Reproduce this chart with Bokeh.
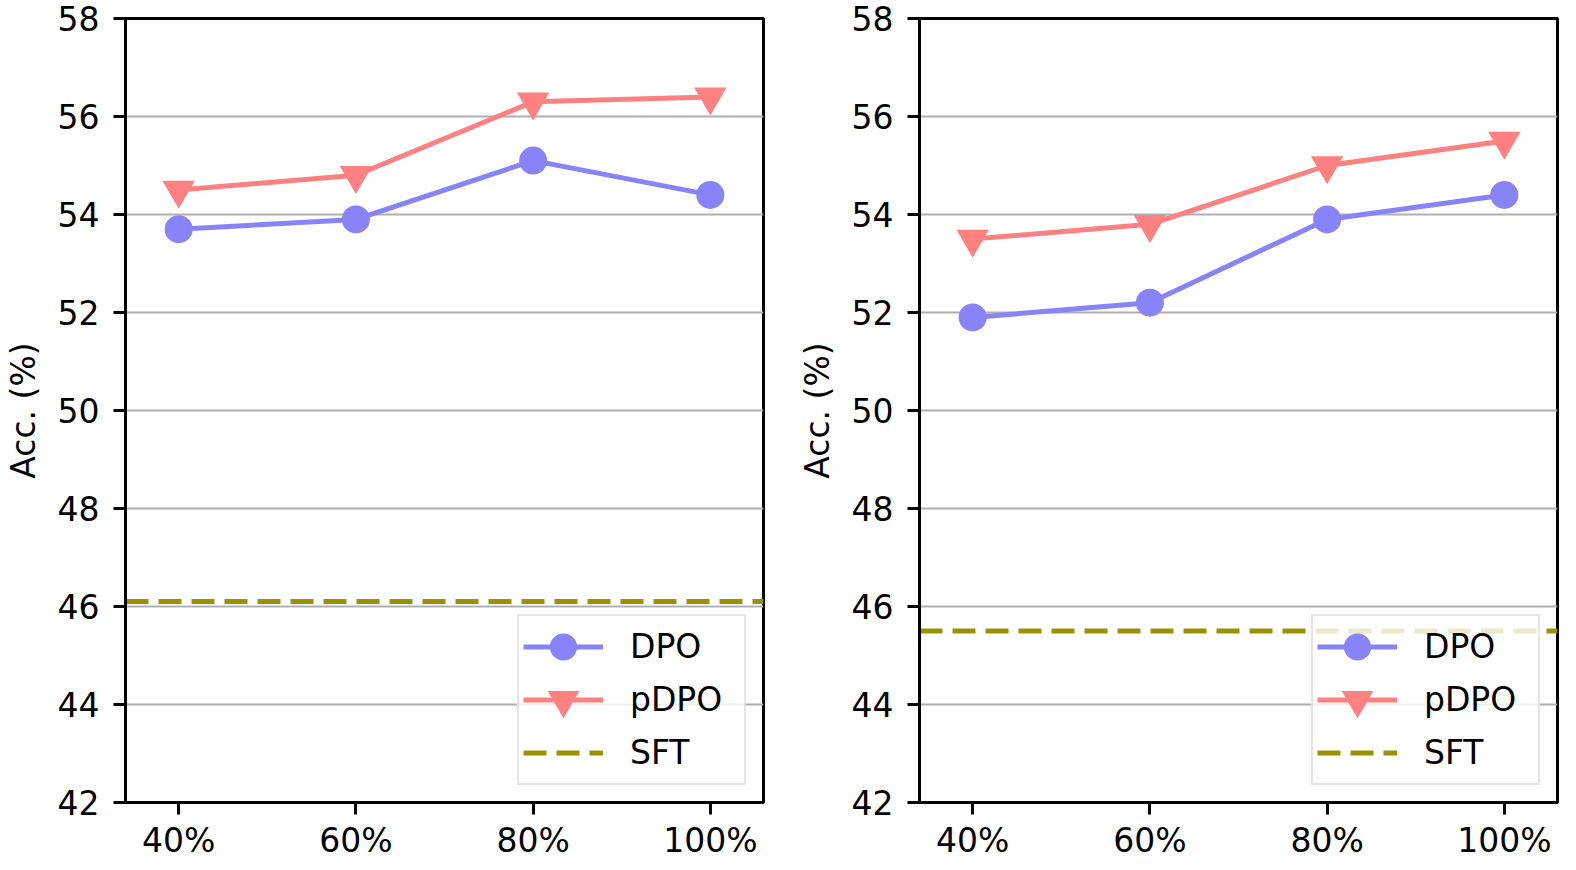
from bokeh.plotting import figure
from bokeh.layouts import row
from bokeh.models import Range1d, FixedTicker
from bokeh.embed import file_html
from bokeh.resources import INLINE

categories = ["40%", "60%", "80%", "100%"]
y_ticks = [42, 44, 46, 48, 50, 52, 54, 56, 58]

left_dpo = [53.7, 53.9, 55.1, 54.4]
left_pdpo = [54.5, 54.8, 56.3, 56.4]
left_sft = 46.1

right_dpo = [51.9, 52.2, 53.9, 54.4]
right_pdpo = [53.5, 53.8, 55.0, 55.5]
right_sft = 45.5

DPO_COLOR = "#8883F8"
PDPO_COLOR = "#FF8080"
SFT_COLOR = "#9A9200"
FONT = "DejaVu Sans"
FS = "33px"

X_START, X_END = -0.3, len(categories) - 1 + 0.3


def make_panel(dpo, pdpo, sft, width, border_right):
    xs = list(range(len(categories)))
    p = figure(width=width, height=868, output_backend="svg", toolbar_location=None,
               x_range=Range1d(X_START, X_END), y_range=Range1d(y_ticks[0], y_ticks[-1]),
               min_border_left=125, min_border_right=border_right,
               min_border_top=18, min_border_bottom=66)
    p.background_fill_color = "white"
    p.border_fill_color = "white"
    p.outline_line_color = "black"
    p.outline_line_width = 3

    p.line([X_START, X_END], [sft, sft], line_color=SFT_COLOR, line_width=5,
           line_dash="23 10", legend_label="SFT")
    p.line(xs, dpo, line_color=DPO_COLOR, line_width=5, legend_label="DPO")
    p.scatter(xs, dpo, marker="circle", size=22, fill_color=DPO_COLOR,
              line_color=DPO_COLOR, line_width=6, legend_label="DPO")
    p.line(xs, pdpo, line_color=PDPO_COLOR, line_width=5, legend_label="pDPO")
    p.scatter(xs, pdpo, marker="inverted_triangle", size=22, fill_color=PDPO_COLOR,
              line_color=PDPO_COLOR, line_width=6, line_join="miter",
              legend_label="pDPO")

    p.xaxis.ticker = FixedTicker(ticks=xs)
    p.xaxis.major_label_overrides = {i: c for i, c in enumerate(categories)}
    p.yaxis.ticker = FixedTicker(ticks=y_ticks)
    p.yaxis.axis_label = "Acc. (%)"

    for ax in (p.xaxis, p.yaxis):
        ax.axis_line_color = "black"
        ax.axis_line_width = 3
        ax.major_tick_line_color = "black"
        ax.major_tick_line_width = 3
        ax.major_tick_out = 12
        ax.major_tick_in = 0
        ax.minor_tick_line_color = None
        ax.major_label_text_font = FONT
        ax.major_label_text_font_size = FS
        ax.major_label_text_color = "black"
        ax.axis_label_text_font = FONT
        ax.axis_label_text_font_size = FS
        ax.axis_label_text_font_style = "normal"
        ax.axis_label_text_color = "black"
    p.xaxis.major_label_standoff = 6
    p.yaxis.major_label_standoff = 14
    p.yaxis.axis_label_standoff = 12

    p.xgrid.grid_line_color = None
    p.ygrid.grid_line_color = "#b0b0b0"
    p.ygrid.grid_line_width = 2

    items = p.legend[0].items
    order = {"DPO": 0, "pDPO": 1, "SFT": 2}
    p.legend[0].items = sorted(items, key=lambda it: order[it.label.value])
    lg = p.legend[0]
    lg.location = "bottom_right"
    lg.margin = 17
    lg.padding = 4
    lg.spacing = 0
    lg.glyph_width = 80
    lg.glyph_height = 53
    lg.label_height = 53
    lg.label_width = 110
    lg.label_standoff = 27
    lg.label_text_font = FONT
    lg.label_text_font_size = FS
    lg.label_text_color = "black"
    lg.border_line_color = "#cccccc"
    lg.border_line_width = 2
    lg.background_fill_alpha = 0.8
    return p


p1 = make_panel(left_dpo, left_pdpo, left_sft, 794, 31)
p2 = make_panel(right_dpo, right_pdpo, right_sft, 780, 17)
layout = row(p1, p2, spacing=0)

open("out.html", "w").write(file_html(layout, INLINE))
